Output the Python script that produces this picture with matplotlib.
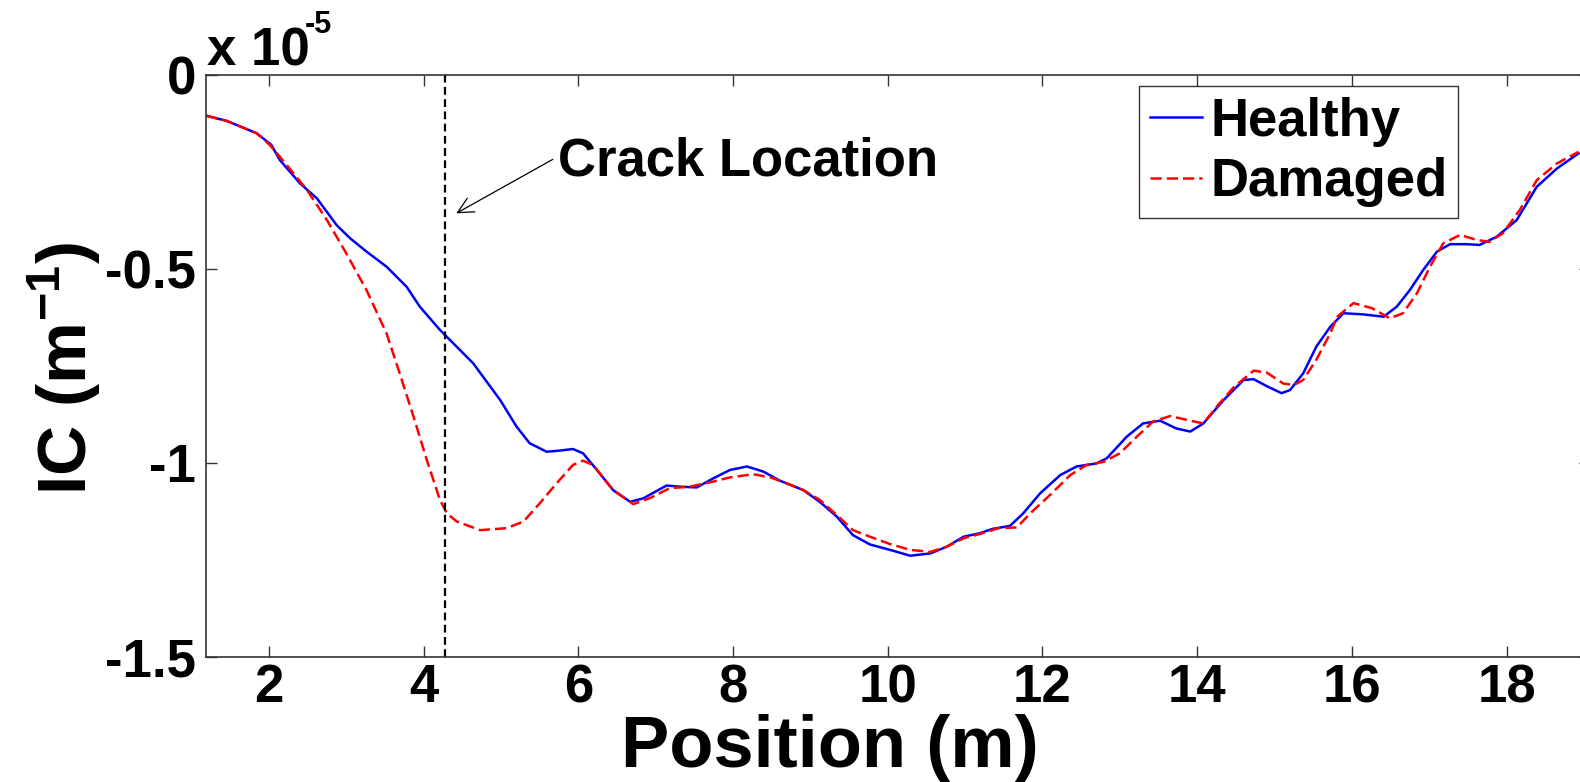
import numpy as np
import matplotlib
matplotlib.use('Agg')
import matplotlib.pyplot as plt

plt.rcParams['font.family'] = 'Liberation Sans'
plt.rcParams['font.weight'] = 'bold'
plt.rcParams['mathtext.fontset'] = 'custom'
plt.rcParams['mathtext.rm'] = 'Liberation Sans:bold'
plt.rcParams['mathtext.bf'] = 'Liberation Sans:bold'
plt.rcParams['axes.unicode_minus'] = False

# IC curves, values in units of 1e-5 1/m
x_healthy = [1.19, 1.45, 1.84, 2.03, 2.14, 2.40, 2.62, 2.875, 3.05, 3.26, 3.52, 3.78, 3.95,
             4.21, 4.275, 4.64, 4.99, 5.20, 5.37, 5.59, 5.76, 5.93, 6.06, 6.24, 6.45, 6.67,
             6.84, 7.14, 7.31, 7.53, 7.74, 7.96, 8.18, 8.39, 8.61, 8.91, 9.12, 9.34, 9.55,
             9.77, 10.03, 10.29, 10.55, 10.76, 10.98, 11.19, 11.35, 11.58, 11.75, 11.97,
             12.23, 12.44, 12.70, 12.83, 13.09, 13.30, 13.52, 13.73, 13.91, 14.08, 14.34,
             14.60, 14.73, 14.90, 15.09, 15.2, 15.37, 15.54, 15.72, 15.89, 16.15, 16.41,
             16.58, 16.75, 16.92, 17.10, 17.27, 17.48, 17.65, 17.87, 18.13, 18.39, 18.65, 18.93]
ic_healthy = [-0.105, -0.118, -0.150, -0.180, -0.219, -0.279, -0.318, -0.387, -0.421, -0.455,
              -0.494, -0.546, -0.597, -0.657, -0.670, -0.743, -0.838, -0.906, -0.949, -0.971,
              -0.968, -0.964, -0.975, -1.018, -1.070, -1.100, -1.091, -1.058, -1.061, -1.063,
              -1.040, -1.018, -1.009, -1.022, -1.046, -1.070, -1.100, -1.138, -1.186, -1.210,
              -1.224, -1.239, -1.233, -1.216, -1.190, -1.181, -1.170, -1.162, -1.130, -1.078,
              -1.031, -1.009, -1.001, -0.988, -0.932, -0.898, -0.891, -0.911, -0.919, -0.898,
              -0.838, -0.786, -0.784, -0.802, -0.820, -0.812, -0.769, -0.700, -0.649, -0.614,
              -0.617, -0.623, -0.597, -0.554, -0.503, -0.455, -0.436, -0.436, -0.438, -0.417,
              -0.374, -0.288, -0.241, -0.202]

x_damaged = [1.19, 1.45, 1.84, 2.01, 2.23, 2.49, 2.75, 3.00, 3.26, 3.52, 3.69, 3.87, 4.04,
             4.21, 4.30, 4.43, 4.73, 5.07, 5.29, 5.50, 5.72, 5.93, 6.06, 6.19, 6.45, 6.71,
             6.93, 7.18, 7.44, 7.74, 7.96, 8.26, 8.48, 8.69, 8.91, 9.12, 9.34, 9.55, 9.77,
             10.03, 10.29, 10.55, 10.76, 10.98, 11.19, 11.43, 11.67, 11.84, 12.10, 12.36,
             12.57, 12.79, 13.00, 13.22, 13.43, 13.65, 13.91, 14.08, 14.25, 14.47, 14.73,
             14.90, 15.11, 15.25, 15.37, 15.54, 15.72, 15.81, 16.02, 16.26, 16.49, 16.66,
             16.84, 17.01, 17.18, 17.40, 17.61, 17.78, 17.95, 18.17, 18.39, 18.65, 18.93]
ic_damaged = [-0.105, -0.118, -0.150, -0.180, -0.232, -0.296, -0.374, -0.460, -0.554, -0.666,
              -0.769, -0.881, -0.992, -1.095, -1.130, -1.151, -1.173, -1.168, -1.151, -1.104,
              -1.052, -1.005, -0.994, -1.005, -1.070, -1.106, -1.090, -1.065, -1.061, -1.048,
              -1.037, -1.029, -1.037, -1.052, -1.070, -1.095, -1.134, -1.173, -1.190, -1.209,
              -1.224, -1.229, -1.216, -1.194, -1.183, -1.168, -1.166, -1.130, -1.082, -1.031,
              -1.005, -0.997, -0.975, -0.932, -0.893, -0.879, -0.891, -0.898, -0.855, -0.805,
              -0.762, -0.767, -0.795, -0.799, -0.786, -0.734, -0.666, -0.623, -0.588, -0.601,
              -0.627, -0.614, -0.563, -0.494, -0.434, -0.412, -0.425, -0.430, -0.408, -0.348,
              -0.271, -0.228, -0.198]

crack_x = 4.275
x_ticks = [2, 4, 6, 8, 10, 12, 14, 16, 18]
y_ticks = [0, -0.5, -1, -1.5]
y_tick_labels = ['0', '-0.5', '-1', '-1.5']

W, H = 1580, 782
fig = plt.figure(figsize=(W / 100, H / 100), dpi=100)
ax = fig.add_axes([206 / W, 1 - 657 / H, (1590 - 206) / W, (657 - 75) / H])

ax.plot(x_healthy, ic_healthy, color='#0000ff', lw=1.8, label='Healthy')
ax.plot(x_damaged, ic_damaged, color='#ff0000', lw=1.8, dashes=(4.5, 2), label='Damaged')
ax.axvline(crack_x, color='k', lw=1.6, dashes=(3.5, 2))

ax.annotate('', xy=(4.39, -0.36), xytext=(5.70, -0.214),
            arrowprops=dict(arrowstyle='->', color='k', lw=0.9, mutation_scale=28))
ax.text(5.74, -0.26, 'Crack Location', fontsize=38, fontweight='bold', va='baseline', ha='left')

ax.set_xlim(1.186, 19.078)
ax.set_ylim(-1.5, 0)
ax.set_xticks(x_ticks)
ax.set_xticklabels([str(t) for t in x_ticks])
ax.set_yticks(y_ticks)
ax.set_yticklabels(y_tick_labels)
ax.tick_params(direction='in', length=8, width=1, top=True, right=True,
               labelsize=38, pad=7, colors='#333333', labelcolor='k')
ax.tick_params(axis='x', pad=4.5)
for s in ax.spines.values():
    s.set_color('#333333')
    s.set_linewidth(1.2)

leg = ax.legend(loc='upper right', bbox_to_anchor=(1458 / W, 1 - 86 / H),
                bbox_transform=fig.transFigure, fontsize=38, frameon=True, fancybox=False,
                handlelength=1.0, handletextpad=0.15, labelspacing=0.2, borderpad=0.2,
                borderaxespad=0)
leg.get_frame().set_edgecolor('k')
leg.get_frame().set_linewidth(1.0)

fig.text(207 / W, 1 - 65 / H, 'x 10', fontsize=38, fontweight='bold', va='baseline')
fig.text(305 / W, 1 - 33 / H, '-5', fontsize=22, fontweight='bold', va='baseline')

fig.text(830 / W, 1 - 766.5 / H, 'Position (m)', fontsize=52, fontweight='bold',
         ha='center', va='baseline')
fig.text(64 / W, 1 - 368 / H, r'IC (m$^{\mathbf{-1}}$)', fontsize=50, fontweight='bold',
         rotation=90, ha='center', va='center')

plt.savefig('out.png', dpi=100)
